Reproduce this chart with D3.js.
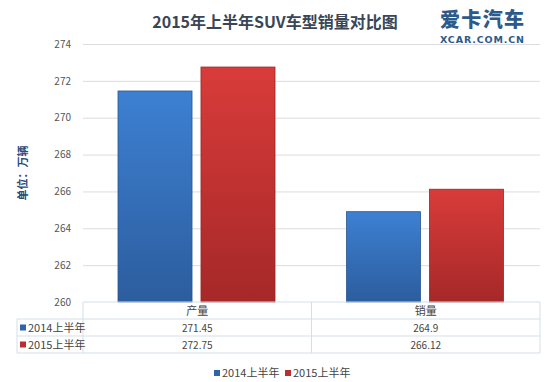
<!DOCTYPE html>
<html><head><meta charset="utf-8">
<script src="https://cdn.jsdelivr.net/npm/d3@7"></script>
<style>body{margin:0;background:#fff}svg{display:block}</style>
</head><body>
<svg id="c" width="550" height="382"></svg>
<script>
const categories = ["产量", "销量"];
const seriesNames = ["2014上半年", "2015上半年"];
const series2014 = [271.45, 264.9];
const series2015 = [272.75, 266.12];
const seriesLabels = [["271.45", "264.9"], ["272.75", "266.12"]];
const yTicks = [260, 262, 264, 266, 268, 270, 272, 274];

const FONT = "'Noto Sans CJK SC','Noto Sans',sans-serif";
const svg = d3.select("#c").style("font-family", FONT);
const defs = svg.append("defs");
const grads = [["gb", "#3d80d2", "#2c5d9e"], ["gr", "#d83c3a", "#a62828"]];
grads.forEach(([id, a, b]) => {
  const g = defs.append("linearGradient").attr("id", id).attr("x1", 0).attr("y1", 0).attr("x2", 0).attr("y2", 1);
  g.append("stop").attr("offset", "0%").attr("stop-color", a);
  g.append("stop").attr("offset", "100%").attr("stop-color", b);
});
const strokes = ["#2a5690", "#9a2525"];
const legendColors = ["#2f65a8", "#b83030"];

const L = 83, R = 540, T = 44, B = 302;
const x = d3.scaleBand().domain(categories).range([L, R]);
const xs = d3.scaleBand().domain(seriesNames).range([35, 35 + 157]).paddingInner(0.108);
const y = d3.scaleLinear().domain([260, 274]).range([B, T]);

// title
svg.append("text").attr("x", 275).attr("y", 28).attr("text-anchor", "middle")
  .attr("font-size", 16).attr("font-weight", "bold").attr("fill", "#3a4656").text("2015年上半年SUV车型销量对比图");
// logo
svg.append("text").attr("x", 482).attr("y", 27).attr("text-anchor", "middle")
  .attr("font-size", 20).attr("font-weight", "900").attr("fill", "#2d5a8a").attr("textLength", 84).text("爱卡汽车");
svg.append("text").attr("x", 482).attr("y", 43).attr("text-anchor", "middle")
  .attr("font-size", 9.5).attr("font-weight", "bold").attr("fill", "#2d5a8a").attr("textLength", 84).attr("font-family","'DejaVu Sans',sans-serif").text("XCAR.COM.CN");

// grid
const ax = svg.append("g").attr("transform", `translate(${L},0)`)
  .call(d3.axisLeft(y).tickValues(yTicks).tickSize(-(R - L)).tickPadding(12).tickFormat(d3.format("d")));
ax.select(".domain").remove();
ax.selectAll(".tick line").attr("stroke", "#dcdcdc");
ax.selectAll(".tick text").attr("fill", "#555").attr("font-size", 10).attr("font-family", FONT);
ax.selectAll(".tick").filter(d => d === 260).select("line").remove();

// y label
svg.append("text").attr("transform", "translate(27,173) rotate(-90)").attr("text-anchor", "middle")
  .attr("font-size", 11).attr("font-weight", "bold").attr("fill", "#2b4a7a").text("单位：万辆");

// bars
const data = [series2014, series2015];
data.forEach((vals, si) => {
  svg.append("g").selectAll("rect").data(categories).join("rect")
    .attr("x", c => x(c) + xs(seriesNames[si]))
    .attr("width", xs.bandwidth())
    .attr("y", (c, i) => y(vals[i]))
    .attr("height", (c, i) => B - y(vals[i]))
    .attr("fill", `url(#${grads[si][0]})`)
    .attr("stroke", strokes[si]).attr("stroke-width", 0.8);
});

// table
const rowY = [302, 319, 336, 353];
const tb = svg.append("g").attr("stroke", "#d5dfe8").attr("fill", "none");
tb.append("line").attr("x1", L).attr("x2", R).attr("y1", rowY[0]).attr("y2", rowY[0]);
[1, 2, 3].forEach(i => tb.append("line").attr("x1", 17).attr("x2", R).attr("y1", rowY[i]).attr("y2", rowY[i]));
tb.append("line").attr("x1", 17).attr("x2", 17).attr("y1", rowY[1]).attr("y2", rowY[3]);
[L, x(categories[1]), R].forEach(xx => tb.append("line").attr("x1", xx).attr("x2", xx).attr("y1", rowY[0]).attr("y2", rowY[3]));

svg.append("g").selectAll("text").data(categories).join("text")
  .attr("x", c => x(c) + x.bandwidth() / 2).attr("y", 315).attr("text-anchor", "middle")
  .attr("font-size", 11).attr("fill", "#444").text(c => c);
seriesNames.forEach((s, si) => {
  const yy = rowY[si + 1] + 12.5;
  svg.append("rect").attr("x", 20).attr("y", yy - 7).attr("width", 6).attr("height", 6).attr("fill", legendColors[si]);
  svg.append("text").attr("x", 28).attr("y", yy).attr("font-size", 11).attr("fill", "#444").text(s);
  categories.forEach((c, ci) => {
    svg.append("text").attr("x", x(c) + x.bandwidth() / 2).attr("y", yy).attr("text-anchor", "middle")
      .attr("font-size", 10).attr("fill", "#444").text(seriesLabels[si][ci]);
  });
});

// legend
const lg = svg.append("g");
[[214, 0], [285, 1]].forEach(([lx, si]) => {
  lg.append("rect").attr("x", lx).attr("y", 370).attr("width", 6).attr("height", 6).attr("fill", legendColors[si]);
  lg.append("text").attr("x", lx + 8).attr("y", 377).attr("font-size", 11).attr("fill", "#444").text(seriesNames[si]);
});
</script>
</body></html>
